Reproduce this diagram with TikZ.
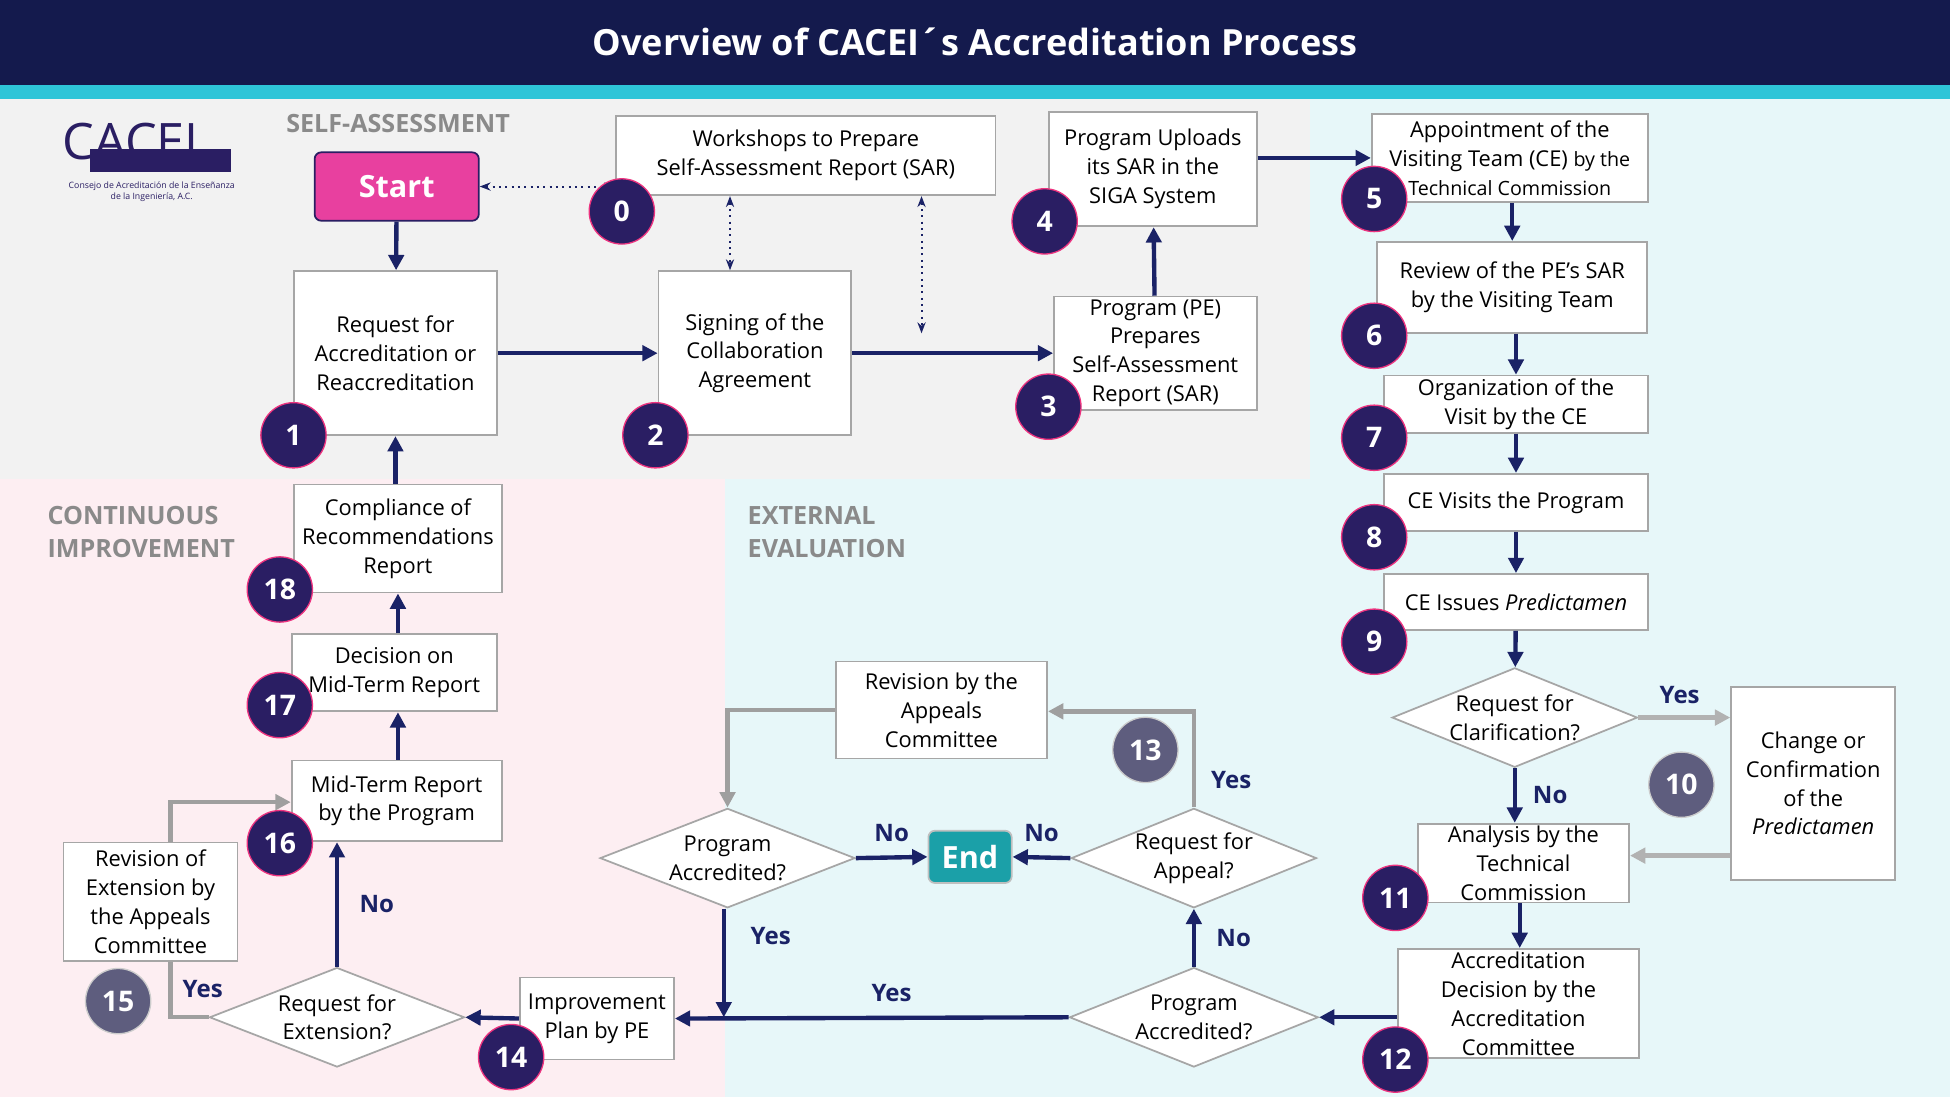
\documentclass[tikz,border=0pt]{standalone}
\usepackage{fontspec}
\setmainfont{Open Sans}
\usetikzlibrary{shapes.geometric,arrows.meta}
\pgfdeclarelayer{bg}
\pgfsetlayers{bg,main}
\definecolor{navy}{HTML}{141A4D}
\definecolor{arrowblue}{HTML}{1A2266}
\definecolor{numc}{HTML}{2A1E63}
\definecolor{numg}{HTML}{5E5D7E}
\definecolor{cyanbar}{HTML}{2EC5D8}
\definecolor{grayzone}{HTML}{F2F2F2}
\definecolor{cyanzone}{HTML}{E7F7F9}
\definecolor{pinkzone}{HTML}{FDEEF2}
\definecolor{startpink}{HTML}{E8409F}
\definecolor{endteal}{HTML}{1BA0A8}
\definecolor{zonetext}{HTML}{8A8A8A}
\tikzset{
  box/.style={draw=gray!70, fill=white, line width=0.8pt, align=center, inner sep=1pt,
    font=\fontsize{10}{13.2}\selectfont},
  dia/.style={draw=gray!70, fill=white, line width=0.8pt, diamond, aspect=2.5, inner sep=0pt,
    align=center, font=\fontsize{10}{13.2}\selectfont},
  num/.style={circle, fill=numc, draw=startpink!80!red, line width=0.6pt, minimum size=1.05cm,
    text=white, font=\fontsize{13}{13}\selectfont\bfseries},
  numgray/.style={num, fill=numg, draw=gray!40},
  flow/.style={draw=arrowblue, line width=2pt, -{Triangle[length=7pt,width=7pt]}},
  gflow/.style={draw=gray!75, line width=2pt, -{Triangle[length=7pt,width=7pt]}},
  dots/.style={draw=arrowblue, dotted, line width=0.9pt, {Stealth[length=5pt]}-{Stealth[length=5pt]}},
  lab/.style={text=arrowblue, font=\fontsize{11}{11}\selectfont\bfseries},
  zone/.style={text=zonetext, align=left, anchor=west, font=\fontsize{11.5}{15}\selectfont\bfseries},
}
\begin{document}
\begin{tikzpicture}[x=0.02cm,y=-0.02cm]
\useasboundingbox (0,0) rectangle (1568,882);
% zones
\begin{pgfonlayer}{bg}
\fill[cyanzone] (0,80) rectangle (1568,882);
\fill[grayzone] (0,80) rectangle (1053,385);
\fill[pinkzone] (0,385) rectangle (583,882);
\fill[navy] (0,0) rectangle (1568,68);
\fill[cyanbar] (0,68) rectangle (1568,80);
\fill[numc] (72,120) rectangle (186,138);
\end{pgfonlayer}
\node[text=white, font=\fontsize{16.5}{20}\selectfont\bfseries] (title) at (784,34) {Overview of CACEI´s Accreditation Process};
\node[zone] (zsa) at (224,99) {SELF-ASSESSMENT};
\node[zone] (zci) at (32,428) {CONTINUOUS\\IMPROVEMENT};
\node[zone] (zee) at (595,428) {EXTERNAL\\EVALUATION};
% logo
\node[text=numc, font=\fontsize{23}{23}\selectfont\rmfamily] (logo) at (105,114) {CACEI};
\node[text=numc, align=center, font=\fontsize{4}{5}\selectfont] (logot) at (122,154) {Consejo de Acreditación de la Enseñanza\\de la Ingeniería, A.C.};

% self-assessment
\node[box, fill=startpink, draw=numc, rounded corners=3pt, text=white, minimum width=132*0.02cm, minimum height=55*0.02cm,
  font=\fontsize{14}{14}\selectfont\bfseries] (start) at (319,150) {Start};
\node[box, minimum width=305*0.02cm, minimum height=64*0.02cm] (b0) at (648,125) {Workshops to Prepare\\Self-Assessment Report (SAR)};
\node[box, minimum width=163*0.02cm, minimum height=132*0.02cm] (b1) at (318,284) {Request for\\Accreditation or\\Reaccreditation};
\node[box, minimum width=155*0.02cm, minimum height=132*0.02cm] (b2) at (607,284) {Signing of the\\Collaboration\\Agreement};
\node[box, minimum width=163*0.02cm, minimum height=91*0.02cm] (b3) at (929,284) {Program (PE)\\Prepares\\Self-Assessment\\Report (SAR)};
\node[box, minimum width=167*0.02cm, minimum height=92*0.02cm] (b4) at (927,136) {Program Uploads\\its SAR in the\\SIGA System};

% external evaluation
\node[box, minimum width=222*0.02cm, minimum height=71*0.02cm] (b5) at (1214,127) {Appointment of the\\Visiting Team (CE) {\small by the}\\{\small Technical Commission}};
\node[box, minimum width=217*0.02cm, minimum height=73*0.02cm] (b6) at (1216,231) {Review of the PE's SAR\\by the Visiting Team};
\node[box, minimum width=212*0.02cm, minimum height=46*0.02cm] (b7) at (1219,325) {Organization of the\\Visit by the CE};
\node[box, minimum width=212*0.02cm, minimum height=46*0.02cm] (b8) at (1219,404) {CE Visits the Program};
\node[box, minimum width=212*0.02cm, minimum height=45*0.02cm] (b9) at (1219,484) {CE Issues \textit{Predictamen}};
\node[dia, minimum width=196*0.02cm, minimum height=80*0.02cm] (d10) at (1218,577) {Request for\\Clarification?};
\node[box, minimum width=132*0.02cm, minimum height=155*0.02cm] (b10) at (1458,630) {Change or\\Confirmation\\of the\\\textit{Predictamen}};
\node[box, minimum width=170*0.02cm, minimum height=63*0.02cm] (b11) at (1225,694) {Analysis by the\\Technical\\Commission};
\node[box, minimum width=194*0.02cm, minimum height=88*0.02cm] (b12) at (1221,807) {Accreditation\\Decision by the\\Accreditation\\Committee};
\node[dia, minimum width=200*0.02cm, minimum height=80*0.02cm] (d12) at (960,818) {Program\\Accredited?};
\node[dia, minimum width=190*0.02cm, minimum height=80*0.02cm] (d13) at (960,690) {Request for\\Appeal?};
\node[box, minimum width=170*0.02cm, minimum height=78*0.02cm] (b13) at (757,571) {Revision by the\\Appeals\\Committee};
\node[dia, minimum width=205*0.02cm, minimum height=80*0.02cm] (dacc) at (585,690) {Program\\Accredited?};
\node[box, fill=endteal, draw=gray!50, rounded corners=3pt, text=white, minimum width=67*0.02cm, minimum height=42*0.02cm,
  font=\fontsize{14}{14}\selectfont\bfseries] (end) at (780,689) {End};

% continuous improvement
\node[box, minimum width=124*0.02cm, minimum height=66*0.02cm] (b14) at (480,819) {Improvement\\Plan by PE};
\node[dia, minimum width=205*0.02cm, minimum height=80*0.02cm] (d15) at (271,818) {Request for\\Extension?};
\node[box, minimum width=140*0.02cm, minimum height=95*0.02cm] (b15) at (121,725) {Revision of\\Extension by\\the Appeals\\Committee};
\node[box, minimum width=169*0.02cm, minimum height=65*0.02cm] (b16) at (319,644) {Mid-Term Report\\by the Program};
\node[box, minimum width=165*0.02cm, minimum height=62*0.02cm] (b17) at (317,541) {Decision on\\Mid-Term Report};
\node[box, minimum width=167*0.02cm, minimum height=87*0.02cm] (b18) at (320,433) {Compliance of\\Recommendations\\Report};

% connectors
\draw[flow] (start) -- (b1);
\draw[flow] (b1) -- (b2);
\draw[flow] (b2) -- (b3);
\draw[flow] (b3) -- (b4);
\draw[flow] (b4.east |- b5.west) -- (b5.west);
\draw[flow] (b5.south -| b6) -- (b6);
\draw[flow] (b6.south -| b7) -- (b7);
\draw[flow] (b7) -- (b8);
\draw[flow] (b8) -- (b9);
\draw[flow] (b9) -- (d10);
\draw[flow] (d10.south) -- (d10.south |- b11.north) node[lab, midway, right=4pt] {No};
\draw[gflow, draw=gray!60] (d10.east) -- (b10.west |- d10.east) node[lab, pos=0.45, above=2pt] {Yes};
\draw[gflow, draw=gray!60] (b10.west |- 0,688) -- (b11.east |- 0,688);
\draw[flow] (b11.south -| 1222,0) -- (b12.north -| 1222,0);
\draw[flow] (b12.west |- d12) -- (d12.east);
\draw[flow] (d12.north) -- (d13.south) node[lab, midway, right=6pt] {No};
\draw[flow] (d13.west) -- (end.east) node[lab, midway, above=3pt] {No};
\draw[gflow] (d13.north) -- (960,572) -- (b13.east |- 0,572);
\node[lab] (yes13) at (990,627) {Yes};
\draw[gflow] (b13.west) -- (585,571) -- (dacc.north);
\draw[flow] (dacc.east) -- (end.west) node[lab, midway, above=3pt] {No};
\coordinate (jn) at (582,818);
\draw[flow] (dacc.south -| jn) -- (jn) node[lab, pos=0.25, right=8pt] {Yes};
\draw[flow] (d12.west) -- (b14.east) node[lab, pos=0.45, above=3pt] {Yes};
\draw[flow] (b14.west) -- (d15.east);
\draw[flow] (d15.north) -- (d15.north |- b16.south) node[lab, midway, right=6pt] {No};
\begin{pgfonlayer}{bg}
\draw[gflow] (d15.west) -- (137,818) -- (137,645) -- (b16.west |- 0,645);
\end{pgfonlayer}
\node[lab] (yes15) at (163,795) {Yes};
\draw[flow] (b16.north -| 320,0) -- (b17.south -| 320,0);
\draw[flow] (b17.north -| 320,0) -- (b18.south -| 320,0);
\draw[flow] (b18.north -| 318,0) -- (b1.south -| 318,0);
\draw[dots] (start.east) -- (b0.west |- start.east);
\draw[dots] (b0.south -| 587,0) -- (b2.north -| 587,0);
\draw[dots] (b0.south -| 741,0) -- (741,268);

% numbers
\node[num] (n0) at (500,170) {0};
\node[num] (n1) at (236,350) {1};
\node[num] (n2) at (527,350) {2};
\node[num] (n3) at (843,327) {3};
\node[num] (n4) at (840,178) {4};
\node[num] (n5) at (1105,160) {5};
\node[num] (n6) at (1105,270) {6};
\node[num] (n7) at (1105,352) {7};
\node[num] (n8) at (1105,432) {8};
\node[num] (n9) at (1105,516) {9};
\node[numgray] (n10) at (1352,631) {10};
\node[num] (n11) at (1122,722) {11};
\node[num] (n12) at (1122,852) {12};
\node[numgray] (n13) at (921,603) {13};
\node[num] (n14) at (411,850) {14};
\node[numgray] (n15) at (95,805) {15};
\node[num] (n16) at (225,678) {16};
\node[num] (n17) at (225,567) {17};
\node[num] (n18) at (225,474) {18};
\end{tikzpicture}
\end{document}
